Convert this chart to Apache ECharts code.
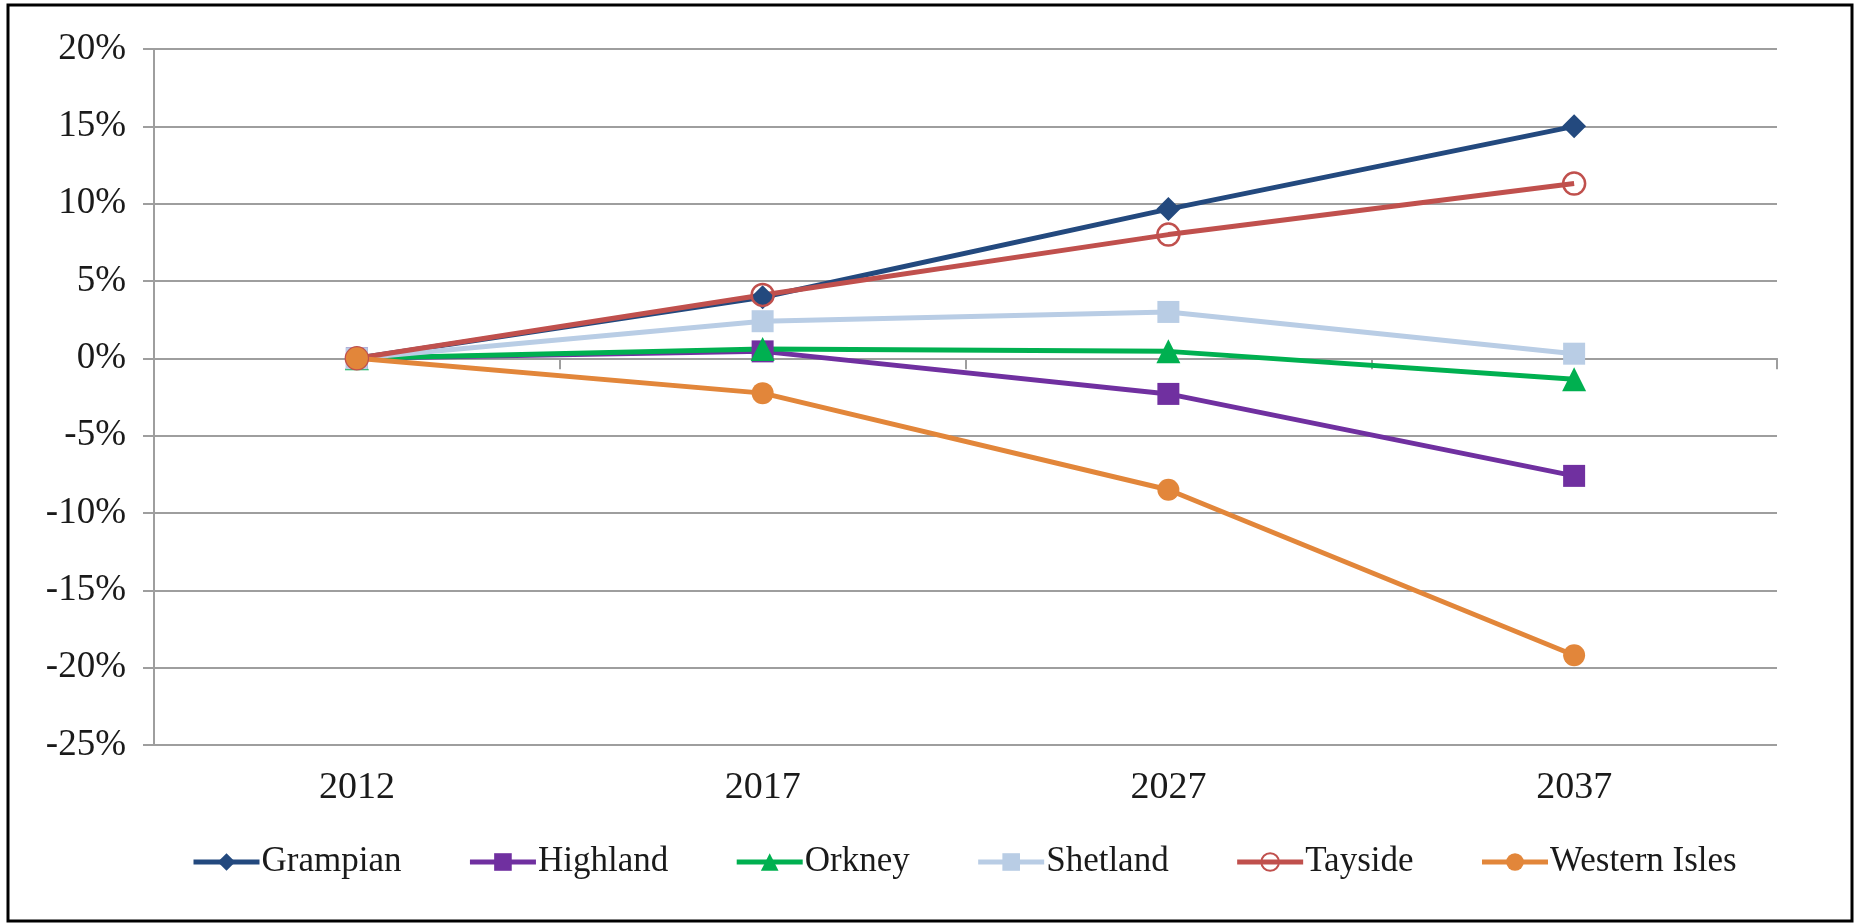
<!DOCTYPE html>
<html>
<head>
<meta charset="utf-8">
<script src="https://cdn.jsdelivr.net/npm/echarts@6/dist/echarts.min.js"></script>
<style>
  html, body { margin: 0; padding: 0; background: #fff; }
  #chart { width: 1854px; height: 924px; }
</style>
</head>
<body>
<div id="chart"></div>
<script>
// years on the category axis
const years = ['2012', '2017', '2027', '2037'];

// percent change since 2012
const grampian = [0, 3.95, 9.65, 15.0];
const highland = [0, 0.45, -2.3, -7.6];
const orkney = [0, 0.6, 0.45, -1.35];
const shetland = [0, 2.4, 3.0, 0.3];
const tayside = [0, 4.1, 8.0, 11.3];
const westernIsles = [0, -2.25, -8.5, -19.2];

const yTicks = { min: -25, max: 20, step: 5 };

const FONT = '"Liberation Serif", "Times New Roman", serif';
const GRID_GREY = '#9e9e9e';
const LINE_W = 5;

const chart = echarts.init(document.getElementById('chart'));

const makeSeries = (name, data, color, symbol, size, extra = {}) => ({
  name,
  type: 'line',
  data,
  xAxisIndex: 0,
  symbol,
  symbolSize: size,
  showSymbol: true,
  itemStyle: { color },
  lineStyle: { color, width: LINE_W },
  emphasis: { disabled: true },
  animation: false,
  ...extra
});

const option = {
  backgroundColor: '#fff',
  grid: {
    left: 154,
    right: 77,
    top: 49,
    bottom: 179
  },
  xAxis: [
    {
      type: 'category',
      data: years,
      boundaryGap: true,
      axisLine: { onZero: true, lineStyle: { color: GRID_GREY, width: 2 } },
      axisTick: { show: true, length: 11, lineStyle: { color: GRID_GREY, width: 2 } },
      axisLabel: { show: false },
      splitLine: { show: false }
    },
    {
      type: 'category',
      data: years,
      position: 'bottom',
      boundaryGap: true,
      axisLine: { show: false, onZero: false },
      axisTick: { show: false },
      axisLabel: {
        margin: 24,
        fontFamily: FONT,
        fontSize: 38,
        color: '#1a1a1a'
      },
      splitLine: { show: false }
    }
  ],
  yAxis: {
    type: 'value',
    min: yTicks.min,
    max: yTicks.max,
    interval: yTicks.step,
    axisLine: { show: true, lineStyle: { color: GRID_GREY, width: 2 } },
    axisTick: { show: true, length: 11, lineStyle: { color: GRID_GREY, width: 2 } },
    axisLabel: {
      formatter: '{value}%',
      margin: 28,
      fontFamily: FONT,
      fontSize: 37,
      color: '#1a1a1a'
    },
    splitLine: { lineStyle: { color: GRID_GREY, width: 2 } }
  },
  legend: {
    left: 186,
    top: 837,
    itemWidth: 66,
    itemHeight: 22,
    itemGap: 66,
    lineStyle: { width: LINE_W },
    textStyle: {
      fontFamily: FONT,
      fontSize: 35,
      lineHeight: 40,
      color: '#1a1a1a',
      padding: [0, 0, 0, -3]
    }
  },
  graphic: [
    {
      type: 'rect',
      shape: { x: 8, y: 5, width: 1844, height: 916 },
      style: { fill: 'none', stroke: '#000', lineWidth: 3 },
      silent: true,
      z: 100
    }
  ],
  series: [
    makeSeries('Grampian', grampian, '#23497e', 'diamond', 24),
    makeSeries('Highland', highland, '#7030a0', 'rect', 22),
    makeSeries('Orkney', orkney, '#00b050', 'triangle', 24),
    makeSeries('Shetland', shetland, '#b9cde5', 'rect', 22),
    makeSeries('Tayside', tayside, '#c0504d', 'circle', 22, {
      itemStyle: { color: 'rgba(255,255,255,0)', borderColor: '#c0504d', borderWidth: 2.5 },
      lineStyle: { color: '#c0504d', width: LINE_W }
    }),
    makeSeries('Western Isles', westernIsles, '#e2863a', 'circle', 22)
  ]
};

chart.setOption(option);
</script>
</body>
</html>
